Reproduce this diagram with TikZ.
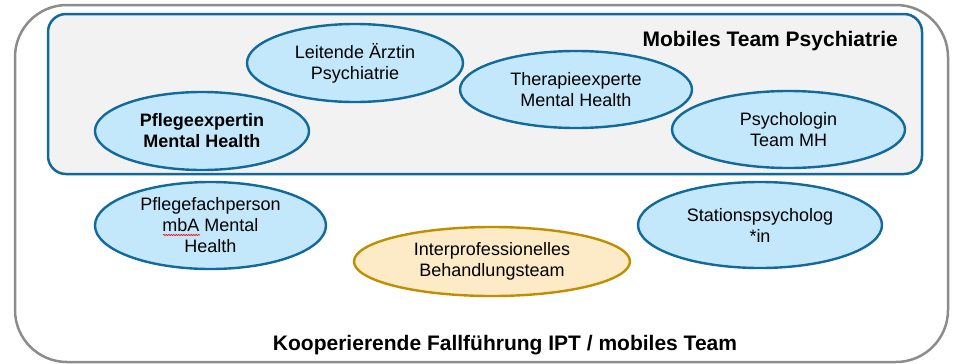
\documentclass[tikz,border=0pt]{standalone}
\usepackage{fontspec}
\setmainfont{Liberation Sans}
\usetikzlibrary{shapes.geometric,decorations.pathmorphing}
\definecolor{outergray}{HTML}{8C8C8C}
\definecolor{panelfill}{HTML}{F2F2F2}
\definecolor{blueline}{HTML}{11699C}
\definecolor{bluefill}{HTML}{C4E8FB}
\definecolor{orangeline}{HTML}{BF8F00}
\definecolor{orangefill}{HTML}{FDEBC8}
\tikzset{
  roleell/.style={ellipse, draw=blueline, fill=bluefill, line width=2.4pt, inner sep=0pt},
  ipell/.style={ellipse, draw=orangeline, fill=orangefill, line width=2.4pt, inner sep=0pt},
  roletext/.style={align=center, inner sep=0pt, font=\fontsize{18}{21}\selectfont},
  titletext/.style={inner sep=0pt, font=\fontsize{21}{24}\selectfont\bfseries},
}
\begin{document}
\begin{tikzpicture}[x=1pt,y=-1pt]
\useasboundingbox (0,0) rectangle (953,364);
% outer frame
\draw[outergray, line width=2.5pt, rounded corners=52pt] (15,5) rectangle (948,362);
% inner panel
\draw[blueline, fill=panelfill, line width=2.5pt, rounded corners=18pt] (48,14) rectangle (922,174);
\node[titletext, anchor=base east] (tmobil) at (898,46) {Mobiles Team Psychiatrie};
\node[titletext, anchor=base] (tkoop) at (505,350) {Kooperierende Fallführung IPT / mobiles Team};

% ellipses
\node[roleell, minimum width=216pt, minimum height=78pt] (e1) at (355,63) {};
\node[roletext] (t1) at (e1) {Leitende Ärztin\\Psychiatrie};

\node[roleell, minimum width=214pt, minimum height=78pt] (e2) at (202,131) {};
\node[roletext, font=\fontsize{18}{21}\selectfont\bfseries] (t2) at (e2) {Pflegeexpertin\\Mental Health};

\node[roleell, minimum width=232pt, minimum height=77pt] (e3) at (576,89.5) {};
\node[roletext] (t3) at (e3) {Therapieexperte\\Mental Health};

\node[roleell, minimum width=233pt, minimum height=77pt] (e4) at (788.5,129.5) {};
\node[roletext] (t4) at (e4) {Psychologin\\Team MH};

\node[roleell, minimum width=231pt, minimum height=87pt] (e5) at (210.5,225.5) {};
\node[roletext] (t5) at (e5) {Pflegefachperson\\mbA Mental\\Health};
\draw[red, line width=0.6pt, decorate, decoration={snake, segment length=2.5pt, amplitude=0.6pt}] (163,235) -- (200,235);

\node[ipell, minimum width=276pt, minimum height=69pt] (e6) at (492,261.5) {};
\node[roletext] (t6) at (e6) {Interprofessionelles\\Behandlungsteam};

\node[roleell, minimum width=244pt, minimum height=86pt] (e7) at (760,225) {};
\node[roletext] (t7) at (e7) {Stationspsycholog\\*in};
\end{tikzpicture}
\end{document}
